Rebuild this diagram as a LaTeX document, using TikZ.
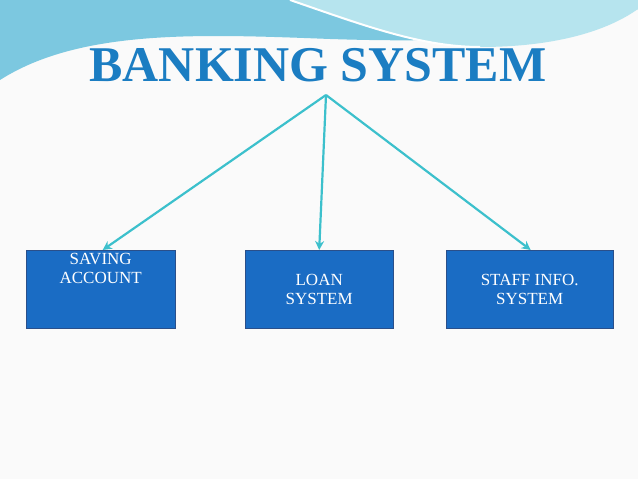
\documentclass[tikz,border=0pt]{standalone}
\usepackage{fontspec}
\setmainfont{Liberation Serif}
\usetikzlibrary{arrows.meta}
\definecolor{boxblue}{HTML}{1A6CC4}
\definecolor{boxedge}{HTML}{2A4F8A}
\definecolor{arr}{HTML}{3CC0CC}
\definecolor{wave1}{HTML}{7CC8E0}
\definecolor{wave2}{HTML}{B6E4EE}
\definecolor{titleblue}{HTML}{1B7DC2}
\tikzset{
 box/.style={draw=boxedge,fill=boxblue,text=white,font=\fontsize{17}{19}\selectfont,align=center,minimum height=78pt,inner sep=2pt},
 conn/.style={arr,line width=2.2pt,-{Stealth[length=9pt,width=9pt]}}
}
\begin{document}
\begin{tikzpicture}[x=1pt,y=1pt]
\useasboundingbox (0,0) rectangle (638,479);
\fill[white!96!gray] (0,0) rectangle (638,479);
% waves
\fill[wave1] (0,479) -- (0,399) .. controls (80,450) and (200,445) .. (330,440) .. controls (450,436) and (560,440) .. (638,470) -- (638,479) -- cycle;
\fill[wave2] (290,479) .. controls (360,455) and (420,432) .. (480,432) .. controls (560,432) and (610,450) .. (638,470) -- (638,479) -- cycle;
\draw[white,line width=2pt] (290,479) .. controls (360,455) and (420,432) .. (480,432);
\node[font=\bfseries\fontsize{50}{54}\selectfont,text=titleblue] (title) at (318,414) {BANKING SYSTEM};
\coordinate (apex) at (326,384);
\node[box,minimum width=149pt,anchor=north west] (sav) at (26,229) {};
\node[text=white,font=\fontsize{17}{19}\selectfont,align=center,anchor=north] (savt) at (sav.north) {SAVING\\ACCOUNT};
\node[box,minimum width=148pt,anchor=north west] (loan) at (245,229) {LOAN\\SYSTEM};
\node[box,minimum width=167pt,anchor=north west] (staff) at (446,229) {STAFF INFO.\\SYSTEM};
\draw[conn] (apex) -- ([xshift=2pt]sav.north);
\draw[conn] (apex) -- ([xshift=0pt]loan.north);
\draw[conn] (apex) -- ([xshift=1pt]staff.north);
\end{tikzpicture}
\end{document}
